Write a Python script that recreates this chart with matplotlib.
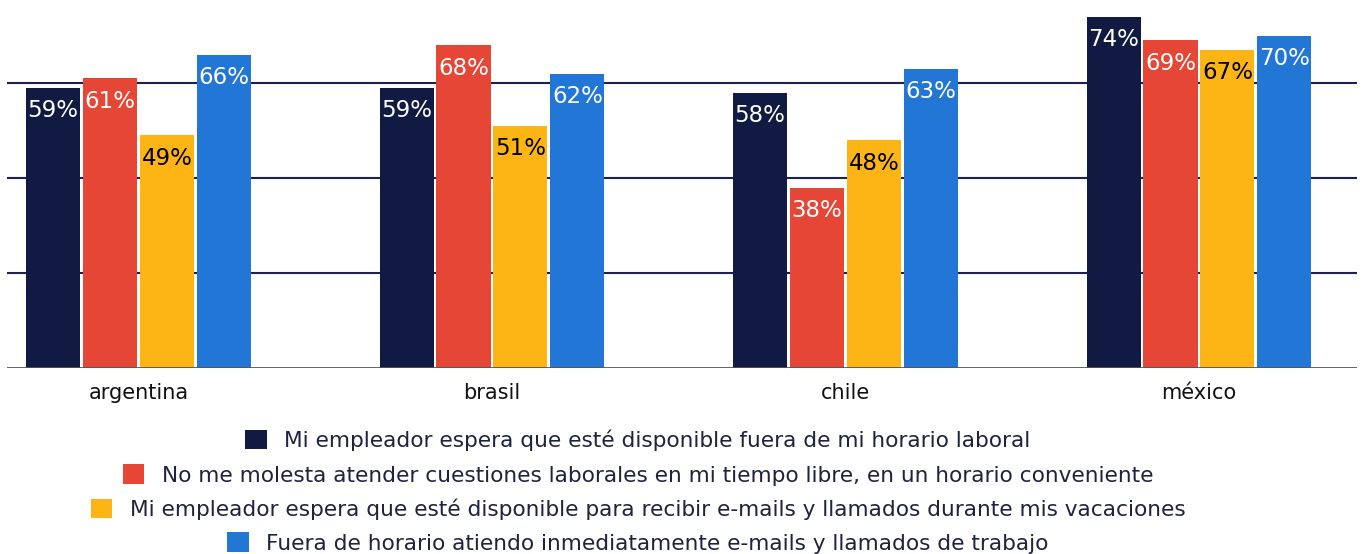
import numpy as np
import matplotlib.pyplot as plt

# datos
paises = ["argentina", "brasil", "chile", "méxico"]
series = [
    "Mi empleador espera que esté disponible fuera de mi horario laboral",
    "No me molesta atender cuestiones laborales en mi tiempo libre, en un horario conveniente",
    "Mi empleador espera que esté disponible para recibir e-mails y llamados durante mis vacaciones",
    "Fuera de horario atiendo inmediatamente e-mails y llamados de trabajo",
]
empleador_fuera = [59, 59, 58, 74]
no_molesta = [61, 68, 38, 69]
vacaciones = [49, 51, 48, 67]
atiendo = [66, 62, 63, 70]
valores = [empleador_fuera, no_molesta, vacaciones, atiendo]

colores = ["#111a42", "#e54635", "#fdb515", "#2277d6"]
color_texto = ["white", "white", "black", "white"]

fig = plt.figure(figsize=(13.64, 5.54), dpi=100)
ax = fig.add_axes([7 / 1364, (554 - 368) / 554, 1350 / 1364, 368 / 554])

x = np.arange(len(paises))
ancho = 0.153
paso = 0.161

handles = []
for i, vals in enumerate(valores):
    pos = x + (i - 1.5) * paso
    bars = ax.bar(pos, vals, width=ancho, color=colores[i], zorder=3)
    handles.append(bars)
    for xi, v in zip(pos, vals):
        ax.annotate(f"{v}%", (xi, v), xytext=(0, -23), textcoords="offset pixels",
                    ha="center", va="center", fontsize=16.5, color=color_texto[i],
                    zorder=4)

# grilla
for g in [20, 40, 60]:
    ax.axhline(g, color="#1c2150", linewidth=1.5, zorder=1)
ax.axhline(0, color="#555555", linewidth=2, zorder=4)

ax.set_xlim(-0.372, 3.447)
ax.set_ylim(0, 77.5)
ax.set_yticks([])
ax.set_xticks(x)
ax.set_xticklabels(paises, fontsize=15, color="#111111")
ax.tick_params(axis="x", length=0, pad=11)
for s in ax.spines.values():
    s.set_visible(False)

# leyenda: cada fila centrada
ys = [440, 475, 509, 543]
for h, lab, yy in zip(handles, series, ys):
    fig.legend([h], [lab], loc="center", bbox_to_anchor=(638 / 1364, 1 - yy / 554),
               frameon=False, fontsize=15.6, handlelength=1.0, handleheight=1.0,
               handletextpad=0.8, labelcolor="#1f2340", borderpad=0, borderaxespad=0)

fig.savefig("out.png", dpi=100)
